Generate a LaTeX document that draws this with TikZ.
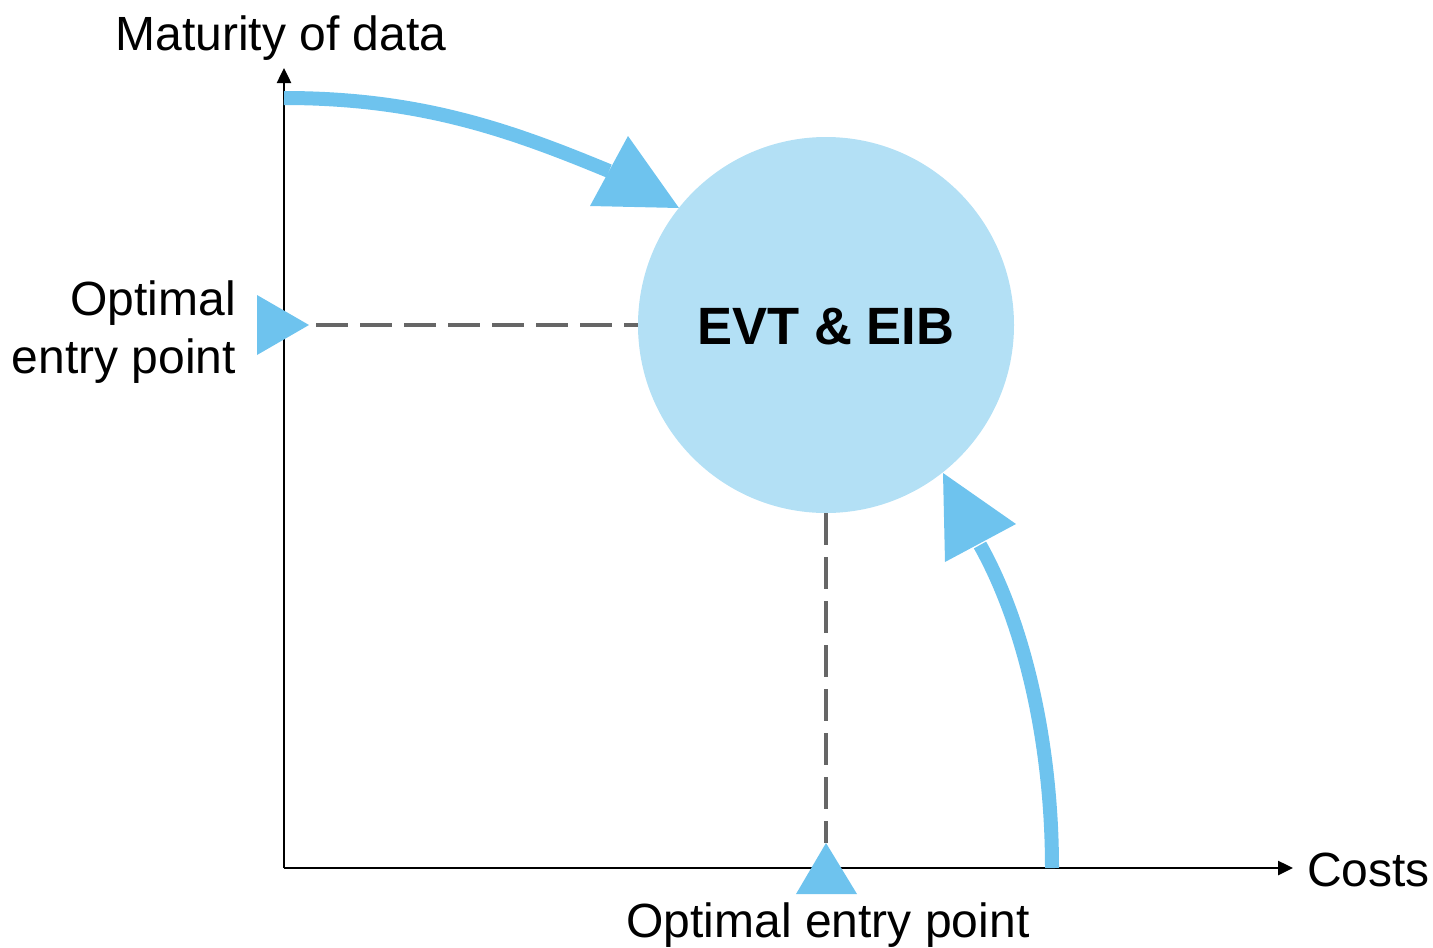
\documentclass[tikz,border=0pt]{standalone}
\usepackage{fontspec}
\setmainfont{Liberation Sans}
\usetikzlibrary{arrows.meta}
\definecolor{arrowblue}{HTML}{6EC3EE}
\definecolor{circleblue}{HTML}{B3E0F5}
\definecolor{dashgray}{HTML}{666666}
\begin{document}
\begin{tikzpicture}[x=1pt,y=-1pt,
  axis/.style={line width=2.5pt,black,-{Triangle[length=15pt,width=14pt]}},
  guide/.style={dashgray,line width=4pt,dash pattern=on 32pt off 12pt},
  flow/.style={arrowblue,line width=14pt},
  head/.style={fill=arrowblue},
  lbl/.style={inner sep=0pt,font=\fontsize{48}{57}\selectfont},
  bubble/.style={circle,fill=circleblue,minimum size=376pt,inner sep=0pt}]
\useasboundingbox (0,0) rectangle (1433,948);
% axes
\coordinate (O) at (284,868);
\coordinate (ytop) at (284,68);
\coordinate (xend) at (1293,868);
\draw[axis] (O) -- (ytop);
\draw[axis] (O) -- (xend);
% circle
\node[bubble] (c) at (826,325) {};
\node[inner sep=0pt,anchor=base,font=\bfseries\fontsize{52.5}{60}\selectfont] (ct) at (826,344) {EVT \& EIB};
% entry point markers
\coordinate (ltip) at (309,325);
\coordinate (btip) at (826,843);
\draw[guide,dash phase=18pt] (c.west) -- (ltip);
\draw[guide] (c.south) -- (btip);
\fill[head] (ltip) -- (257,295) -- (257,355) -- cycle;
\fill[head] (btip) -- (796,894) -- (857,894) -- cycle;
% flow arrows
\coordinate (a1s) at (284,98);
\coordinate (a1e) at (609,171);
\draw[flow] (a1s) .. controls (420,98) and (510,130) .. (a1e);
\fill[head] (679,208) -- (628,136) -- (590,206) -- cycle;
\coordinate (a2s) at (1052,868);
\coordinate (a2e) at (980,545);
\draw[flow] (a2s) .. controls (1052,745) and (1025,625) .. (a2e);
\fill[head] (943,473) -- (1016,524) -- (945,562) -- cycle;
% labels
\node[lbl,anchor=base] (ylab) at (281,50) {Maturity of data};
\node[lbl,anchor=base west] (xlab) at (1307,886) {Costs};
\node[lbl,anchor=base east] (l1) at (236,315) {Optimal};
\node[lbl,anchor=base east] (l2) at (236,373) {entry point};
\node[lbl,anchor=base] (bl) at (828,937) {Optimal entry point};
\end{tikzpicture}
\end{document}
